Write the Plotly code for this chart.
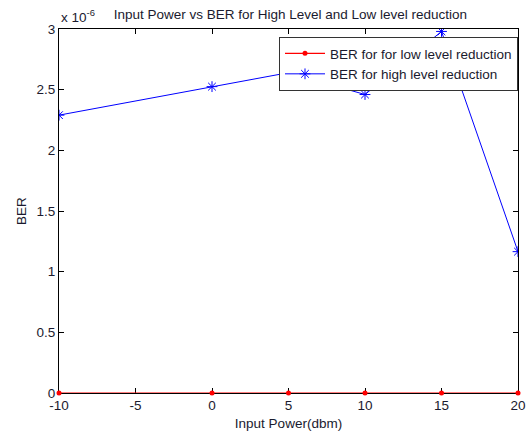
import plotly.graph_objects as go

input_power = [-10, 0, 5, 10, 15, 20]
ber_low = [0, 0, 0, 0, 0, 0]
ber_high = [2.29e-6, 2.525e-6, 2.64e-6, 2.46e-6, 2.98e-6, 1.165e-6]
x_tick_vals = [-10, -5, 0, 5, 10, 15, 20]
x_tick_text = ["-10", "-5", "0", "5", "10", "15", "20"]
y_tick_vals = [0, 0.5e-6, 1e-6, 1.5e-6, 2e-6, 2.5e-6, 3e-6]
y_tick_text = ["0", "0.5", "1", "1.5", "2", "2.5", "3"]

font_family = "Liberation Sans, Arial, sans-serif"
txt = "#1a1a2e"
fs = 13.5

fig = go.Figure()
fig.add_trace(go.Scatter(
    x=input_power, y=ber_low, mode="lines+markers",
    name="BER for for low level reduction",
    line=dict(color="#ff0000", width=1.2),
    marker=dict(symbol="circle", size=5, color="#ff0000"),
    cliponaxis=False,
))
fig.add_trace(go.Scatter(
    x=input_power, y=ber_high, mode="lines+markers",
    name="BER for high level reduction",
    line=dict(color="#0000ff", width=1),
    marker=dict(symbol="asterisk-open", size=9, color="#0000ff",
                line=dict(color="#0000ff", width=1)),
))

fig.update_layout(
    width=528, height=434,
    margin=dict(l=59, r=10, t=29, b=41),
    paper_bgcolor="white", plot_bgcolor="white",
    font=dict(family=font_family, size=fs, color=txt),
    title=dict(text="Input Power vs BER for High Level and Low level reduction",
               x=0.55, xanchor="center", y=0.968, yanchor="middle",
               font=dict(size=fs, color=txt)),
    showlegend=True,
    legend=dict(x=1.0, xanchor="right", y=0.978, yanchor="top",
                bgcolor="white", bordercolor="#333333", borderwidth=1,
                font=dict(size=fs, color=txt), tracegroupgap=0,
                itemwidth=40),
    xaxis=dict(range=[-10, 20], tickvals=x_tick_vals, ticktext=x_tick_text,
               showgrid=False, zeroline=False, automargin=False,
               layer="below traces",
               showline=True, linecolor="black", linewidth=1, mirror="ticks",
               ticks="inside", ticklen=5, tickcolor="black",
               title=dict(text="Input Power(dbm)", standoff=6, font=dict(size=fs))),
    yaxis=dict(range=[0, 3e-6], tickvals=y_tick_vals, ticktext=y_tick_text,
               showgrid=False, zeroline=False, automargin=False,
               layer="below traces",
               showline=True, linecolor="black", linewidth=1, mirror="ticks",
               ticks="inside", ticklen=5, tickcolor="black",
               title=dict(text="BER", standoff=6, font=dict(size=fs))),
)
fig.add_annotation(xref="paper", yref="paper", x=0.0, y=1.0, xanchor="left",
                   yanchor="bottom", yshift=2, showarrow=False,
                   text="x 10<sup>-6</sup>", font=dict(size=fs, color=txt))

fig.write_html("out.html")
